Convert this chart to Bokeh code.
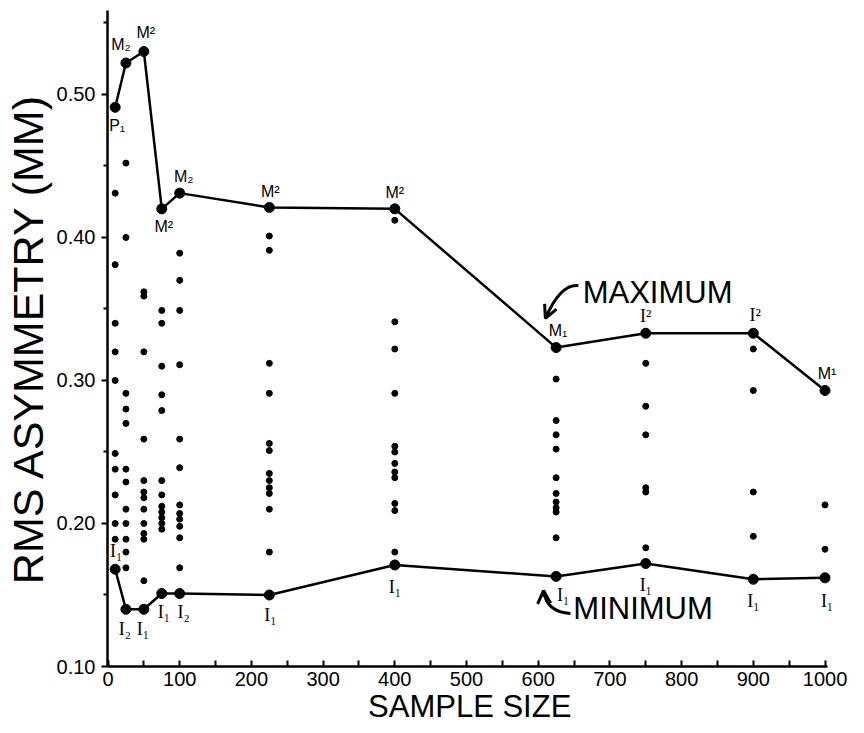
from bokeh.plotting import figure
from bokeh.models import Range1d, FixedTicker, PrintfTickFormatter, Arrow, OpenHead, ColumnDataSource
from bokeh.core.properties import value
from bokeh.embed import file_html
from bokeh.resources import INLINE

# ---- data ----
sample_sizes = [10, 25, 50, 75, 100, 225, 400, 625, 750, 900, 1000]
max_rms = [0.491, 0.522, 0.530, 0.420, 0.431, 0.421, 0.420, 0.323, 0.333, 0.333, 0.293]
min_rms = [0.168, 0.140, 0.140, 0.151, 0.151, 0.150, 0.171, 0.163, 0.172, 0.161, 0.162]
max_labels = ["P\u2081", "M\u2082", "M\u00b2", "M\u00b2", "M\u2082", "M\u00b2", "M\u00b2", "M\u2081", "I\u00b2", "I\u00b2", "M\u00b9"]
min_labels = ["I\u2081", "I\u2082", "I\u2081", "I\u2081", "I\u2082", "I\u2081", "I\u2081", "I\u2081", "I\u2081", "I\u2081", "I\u2081"]

rms_n10 = [0.431, 0.381, 0.340, 0.320, 0.300, 0.249, 0.238, 0.220, 0.200, 0.189]
rms_n25 = [0.452, 0.400, 0.291, 0.280, 0.270, 0.238, 0.229, 0.210, 0.200, 0.189, 0.180, 0.169]
rms_n50 = [0.362, 0.359, 0.320, 0.259, 0.230, 0.222, 0.218, 0.210, 0.200, 0.193, 0.189, 0.160]
rms_n75 = [0.349, 0.340, 0.310, 0.290, 0.279, 0.230, 0.220, 0.212, 0.208, 0.204, 0.200, 0.196]
rms_n100 = [0.389, 0.370, 0.349, 0.311, 0.259, 0.239, 0.213, 0.207, 0.203, 0.198, 0.190, 0.169]
rms_n225 = [0.401, 0.391, 0.312, 0.291, 0.256, 0.251, 0.235, 0.230, 0.225, 0.221, 0.210, 0.180]
rms_n400 = [0.412, 0.341, 0.322, 0.291, 0.254, 0.250, 0.242, 0.236, 0.232, 0.214, 0.209, 0.180]
rms_n625 = [0.301, 0.272, 0.262, 0.252, 0.232, 0.221, 0.215, 0.211, 0.208, 0.190]
rms_n750 = [0.312, 0.282, 0.262, 0.225, 0.222, 0.183]
rms_n900 = [0.322, 0.293, 0.222, 0.191]
rms_n1000 = [0.213, 0.182]
other_rms = [rms_n10, rms_n25, rms_n50, rms_n75, rms_n100, rms_n225,
             rms_n400, rms_n625, rms_n750, rms_n900, rms_n1000]

x_ticks = list(range(0, 1001, 100))
x_minor = list(range(50, 1000, 100))
y_ticks = [0.10, 0.20, 0.30, 0.40, 0.50]
y_minor = [0.15, 0.25, 0.35, 0.45, 0.55]

# ---- label layout (screen px offsets) ----
max_dx = [2, -5, 2, 2, 4, 1, 0, 2, 0, 2, 2]
max_dy = [18, -18, -19, 18, -17, -16, -16, -17, -17, -18, -17]
min_dx = [1, -1, -1, 2, 4, 1, 0, 7, 0, 0, 2]
min_dy = [-18, 20, 20, 18, 18, 20, 22, 19, 21, 22, 23]

SANS = "Liberation Sans"
SERIF = "Liberation Serif"

p = figure(width=864, height=732, output_backend="svg", toolbar_location=None,
           x_range=Range1d(-0.7, 1021.6), y_range=Range1d(0.10, 0.5587),
           min_border_left=107, min_border_right=24, min_border_top=10, min_border_bottom=66)
p.outline_line_color = None
p.grid.visible = False
p.background_fill_color = "white"

# scatter of all other estimates
xs, ys = [], []
for n, vals in zip(sample_sizes, other_rms):
    xs += [n] * len(vals)
    ys += vals
p.scatter(xs, ys, size=6, color="black")

# maximum & minimum lines
p.line(sample_sizes, max_rms, line_width=2.5, color="black")
p.line(sample_sizes, min_rms, line_width=2.5, color="black")
p.scatter(sample_sizes, max_rms, size=10, color="black")
p.scatter(sample_sizes, min_rms, size=10, color="black")

# point labels
for flag, font, fs in [(False, SANS, "16px"), (True, SERIF, "18px")]:
    idx = [i for i, t in enumerate(max_labels) if (t.startswith("I")) == flag]
    src = ColumnDataSource(dict(x=[sample_sizes[i] for i in idx], y=[max_rms[i] for i in idx],
                                t=[max_labels[i] for i in idx], dx=[max_dx[i] for i in idx],
                                dy=[max_dy[i] for i in idx]))
    p.text(x="x", y="y", text="t", x_offset="dx", y_offset="dy", source=src,
           text_font=value(font), text_font_size=fs, text_align="center",
           text_baseline="middle", text_color="black")
src_min = ColumnDataSource(dict(x=sample_sizes, y=min_rms, t=min_labels, dx=min_dx, dy=min_dy))
p.text(x="x", y="y", text="t", x_offset="dx", y_offset="dy", source=src_min,
       text_font=value(SERIF), text_font_size="18px", text_align="center",
       text_baseline="middle", text_color="black")

# annotations
p.text(x=[662], y=[0.3615], text=["MAXIMUM"], text_font=value(SANS), text_font_size="31px",
       text_align="left", text_baseline="middle", text_color="black")
p.text(x=[649], y=[0.1406], text=["MINIMUM"], text_font=value(SANS), text_font_size="31px",
       text_align="left", text_baseline="middle", text_color="black")
p.quadratic(x0=[656], y0=[0.3664], cx=[631], cy=[0.3678], x1=[610], y1=[0.3434],
            line_width=3, line_color="black")
p.add_layout(Arrow(end=OpenHead(size=13, line_width=3, line_color="black"),
                   x_start=614, y_start=0.3480, x_end=610, y_end=0.3434,
                   line_width=3, line_color="black"))
p.quadratic(x0=[645], y0=[0.1371], cx=[611.6], cy=[0.1378], x1=[607.4], y1=[0.1531],
            line_width=3, line_color="black")
p.add_layout(Arrow(end=OpenHead(size=13, line_width=3, line_color="black"),
                   x_start=607.8, y_start=0.1490, x_end=607.4, y_end=0.1531,
                   line_width=3, line_color="black"))

# axes
xa = p.xaxis[0]
xa.ticker = FixedTicker(ticks=x_ticks, minor_ticks=x_minor)
xa.bounds = (-0.7, 1004)
xa.axis_line_width = 2.5
xa.major_tick_in = 6
xa.major_tick_out = 0
xa.minor_tick_in = 6
xa.minor_tick_out = 0
xa.major_tick_line_width = 2
xa.minor_tick_line_width = 2
xa.major_label_text_font = SANS
xa.major_label_text_font_size = "20px"
xa.major_label_text_color = "black"
xa.major_label_standoff = 5
xa.axis_label = "SAMPLE  SIZE"
xa.axis_label_text_font = SANS
xa.axis_label_text_font_size = "31px"
xa.axis_label_text_font_style = "normal"
xa.axis_label_text_color = "black"
xa.axis_label_standoff = 0

ya = p.yaxis[0]
ya.ticker = FixedTicker(ticks=y_ticks, minor_ticks=y_minor)
ya.formatter = PrintfTickFormatter(format="%.2f")
ya.axis_line_width = 2.5
ya.major_tick_in = 0
ya.major_tick_out = 6
ya.minor_tick_in = 0
ya.minor_tick_out = 4
ya.major_tick_line_width = 2
ya.minor_tick_line_width = 2
ya.major_label_text_font = SANS
ya.major_label_text_font_size = "20px"
ya.major_label_text_color = "black"
ya.major_label_standoff = 6
ya.axis_label = "RMS ASYMMETRY (MM)"
ya.axis_label_text_font = SANS
ya.axis_label_text_font_size = "43px"
ya.axis_label_text_font_style = "normal"
ya.axis_label_text_color = "black"
ya.axis_label_standoff = 2

open("out.html", "w").write(file_html(p, INLINE))
